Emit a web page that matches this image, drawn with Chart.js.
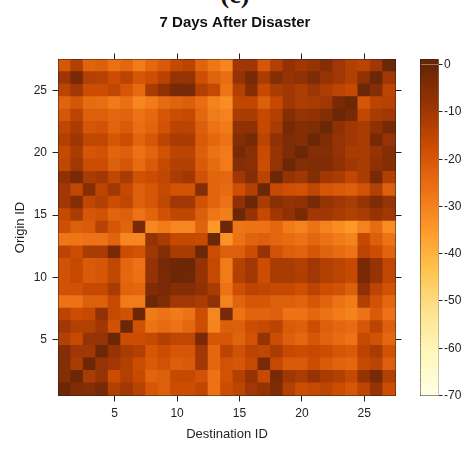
<!DOCTYPE html>
<html>
<head>
<meta charset="utf-8">
<script src="https://cdn.jsdelivr.net/npm/chart.js@4.4.1/dist/chart.umd.min.js"></script>
<style>
  html, body { margin: 0; padding: 0; background: #fff; }
  #wrap { position: relative; width: 470px; height: 450px; overflow: hidden; }
  #heat { position: absolute; left: 0; top: 0; }
  #bar { position: absolute; left: 400px; top: 0; }
  #panel {
    position: absolute; left: 0; top: -18px; width: 470px; text-align: center;
    font: bold 26px "Liberation Serif", "Times New Roman", serif; line-height: 26px; color: #111;
  }
</style>
</head>
<body>
<div id="wrap">
  <div id="panel">(c)</div>
  <canvas id="heat" width="470" height="450"></canvas>
  <canvas id="bar" width="70" height="450"></canvas>
</div>
<script>
const destinationIds = [1, 2, 3, 4, 5, 6, 7, 8, 9, 10, 11, 12, 13, 14, 15, 16, 17, 18, 19, 20, 21, 22, 23, 24, 25, 26, 27];
const originIds = [1, 2, 3, 4, 5, 6, 7, 8, 9, 10, 11, 12, 13, 14, 15, 16, 17, 18, 19, 20, 21, 22, 23, 24, 25, 26, 27];
const axisTicks = [5, 10, 15, 20, 25];
const legendTicks = [0, -10, -20, -30, -40, -50, -60, -70];

// one row per origin (1..27), one value per destination (1..27)
const cells = [
  [-1, -4.5, -5, -3, -13, -10, -14, -20, -22, -17.5, -17.5, -15.5, -26.5, -17.5, -15, -10, -8, -4, -13, -17.5, -16.5, -15, -17.5, -20, -15, -8, -17.5],
  [-5, -1, -11.5, -8, -17.5, -13, -16.5, -23, -22, -16.5, -16.5, -19, -26.5, -19, -13, -8, -16.5, -3, -10, -11.5, -8, -11.5, -13, -16.5, -8, -3, -13],
  [-5, -11.5, -1, -8, -10, -13, -17.5, -21, -19, -22, -21, -10, -24, -19, -20, -16.5, -3, -16.5, -21, -21, -17.5, -21, -23, -24, -16.5, -14.5, -22],
  [-5, -10, -10, -1, -8, -11.5, -13, -20, -17.5, -20, -20, -10, -24, -14.5, -19, -14.5, -15.5, -11.5, -16.5, -17.5, -16.5, -17.5, -20, -21, -14.5, -11.5, -19],
  [-13, -16.5, -8, -8, -1, -17.5, -17.5, -16.5, -13, -15.5, -15.5, -3, -20, -20, -23, -19, -8, -17.5, -22, -24, -20, -23, -25, -26.5, -16.5, -19, -24],
  [-10, -13, -13, -10, -19, -1, -19, -26.5, -25, -26.5, -24, -17.5, -30, -22, -22, -17.5, -16.5, -14.5, -21, -22, -17.5, -22, -24, -25, -20, -14.5, -22],
  [-14.5, -17.5, -16.5, -7, -16.5, -19, -1, -28.5, -26.5, -28.5, -26.5, -17.5, -31, -3, -26.5, -23, -23, -22, -26.5, -26.5, -24, -26.5, -28.5, -30, -26.5, -21, -26.5],
  [-26.5, -26.5, -22, -22, -16.5, -28.5, -28.5, -1, -4.5, -10, -10, -11.5, -7, -30, -23, -20, -20, -22, -22, -23, -20, -23, -26.5, -28.5, -13, -19, -24],
  [-19, -19, -16.5, -16.5, -11.5, -23, -24, -4.5, -3, -5, -5, -7, -11.5, -26.5, -18, -14.5, -15.5, -16.5, -16.5, -18, -14.5, -17.5, -19, -22, -7, -14.5, -19],
  [-19, -16.5, -21, -20, -15.5, -24, -26, -8, -3.5, -1, -1.5, -8, -16.5, -28.5, -13, -10, -17.5, -11.5, -11.5, -12.5, -10, -13, -14.5, -16.5, -3, -8, -15.5],
  [-19, -16.5, -21, -20, -15.5, -24, -26.5, -8, -3, -1.5, -1, -8, -16.5, -28.5, -13.5, -10, -17.5, -11.5, -11.5, -13, -10, -13, -14.5, -16.5, -3, -8, -15.5],
  [-14.5, -17.5, -11.5, -11.5, -3, -17.5, -19, -10, -5, -11.5, -11.5, -1, -17.5, -22, -22, -17.5, -8, -19, -22, -23, -20, -23, -25, -26.5, -14.5, -17.5, -23],
  [-27.5, -27.5, -26.5, -26.5, -23, -31, -31, -8, -11.5, -16.5, -16.5, -17, -1, -33.5, -26.5, -23, -22, -24, -25, -26.5, -24, -26.5, -28.5, -30, -16.5, -22, -26.5],
  [-18, -22, -21, -14, -20, -23, -3, -31, -28.5, -31, -31, -23, -35, -1, -27.5, -26.5, -26.5, -24, -28.5, -30, -26.5, -30, -32.5, -35, -30, -25, -32.5],
  [-16.5, -11.5, -20, -19, -23.5, -22, -26.5, -23.5, -19, -15.5, -15.5, -22, -27.5, -29.5, -1, -8, -16.5, -10, -7, -3, -10, -10, -11.5, -13, -11.5, -8, -10],
  [-10, -5, -15.5, -13, -17.5, -15.5, -22, -20, -15.5, -10, -10, -19, -23.5, -26.5, -7, -1, -11.5, -6, -8, -7, -3, -8, -10, -11.5, -8, -4, -8],
  [-10, -15.5, -5, -14.5, -10, -16.5, -22, -20, -16.5, -19, -19, -5, -23.5, -25, -18, -13, -1, -16.5, -18, -19, -15.5, -20, -21, -22, -19, -13, -22],
  [-7, -3, -11.5, -10, -15.5, -11.5, -19, -17.5, -15.5, -11.5, -10, -19, -23.5, -24, -10, -5, -14.5, -1, -8, -10, -5, -10, -11.5, -15.5, -11.5, -3, -13],
  [-15.5, -10, -17.5, -17.5, -22, -20, -25, -21, -16.5, -13, -13, -21, -25, -28.5, -5, -6, -17.5, -8, -1, -5, -4.5, -4.5, -7, -10, -11.5, -7, -5],
  [-16.5, -11.5, -20, -19, -23.5, -22, -26.5, -23.5, -19, -14.5, -14.5, -22, -26.5, -28.5, -3, -6, -17, -8.5, -4, -1, -5, -5, -8, -11.5, -11.5, -8, -5],
  [-13, -9.5, -15.5, -15.5, -20, -17.5, -23.5, -20, -14.5, -11.5, -11.5, -21, -24, -26.5, -5, -3, -14.5, -7, -4, -5, -1, -4.5, -8, -10, -11.5, -3, -8],
  [-15.5, -11.5, -20, -19, -23, -21, -25.5, -23.5, -19, -14.5, -14.5, -22, -26.5, -28.5, -7, -7, -16.5, -11.5, -3, -5, -4.5, -1, -7, -10, -11.5, -7, -3],
  [-20, -14.5, -22, -22, -24, -23, -26.5, -24.5, -20, -17.5, -16.5, -24, -28.5, -30, -11.5, -11.5, -16.5, -13, -5, -8, -7, -5, -1, -3, -15.5, -11.5, -10],
  [-23, -20, -25, -25.5, -28.5, -26, -31, -28.5, -25, -23, -22, -25.5, -30, -32.5, -15.5, -15.5, -22, -16.5, -10, -12, -11.5, -10, -3, -1, -20, -14.5, -13.5],
  [-14.5, -10, -17.5, -17.5, -15.5, -20, -24.5, -11.5, -7, -3, -3, -13, -16.5, -27, -13, -5, -16.5, -11.5, -10, -12, -9, -12, -14.5, -16.5, -1, -5, -14.5],
  [-9.5, -3, -13, -14, -17.5, -14.5, -20, -18, -14, -8, -8, -18, -23, -25.5, -8, -3, -11.5, -5, -8, -7, -4, -8, -10, -13, -7, -1, -10],
  [-20, -13, -23, -22, -26, -24, -28.5, -24, -21, -16.5, -14.5, -23, -27.5, -31, -10, -10, -20, -13, -7.5, -10, -8, -5, -10, -13, -14.5, -10, -1]
];

// YlOrBr ramp, -70 (pale) up to 0 (dark brown)
const ramp = ['#ffffe5', '#fff7bc', '#fee391', '#fec44f', '#fe9929', '#ec7014', '#cc4c02', '#993404', '#662506'];
const zMin = -70, zMax = 0;

function hexToRgb(h) {
  return [parseInt(h.slice(1, 3), 16), parseInt(h.slice(3, 5), 16), parseInt(h.slice(5, 7), 16)];
}

function colorFor(v) {
  let t = (v - zMin) / (zMax - zMin);
  t = Math.max(0, Math.min(1, t)) * (ramp.length - 1);
  const i = Math.min(Math.floor(t), ramp.length - 2);
  const f = t - i;
  const a = hexToRgb(ramp[i]), b = hexToRgb(ramp[i + 1]);
  const c = a.map((x, k) => Math.round(x + (b[k] - x) * f));
  return `rgb(${c[0]},${c[1]},${c[2]})`;
}

const font = { family: '"Liberation Sans", Arial, sans-serif', size: 12 };
const ink = '#222';
Chart.defaults.font.family = font.family;

const fixTicks = list => axis => { axis.ticks = list.map(v => ({ value: v })); };

const heatSets = originIds.map((o, i) => ({
  data: destinationIds.map(d => ({ x: d, y: [o - 0.5, o + 0.5] })),
  backgroundColor: cells[i].map(colorFor),
  borderWidth: 0,
  grouped: false,
  barPercentage: 1,
  categoryPercentage: 1,
  inflateAmount: 0.6,
  xAxisID: 'x',
  yAxisID: 'y'
}));

const frameGrid = { drawOnChartArea: false, offset: false, tickLength: 6, color: ink };

new Chart(document.getElementById('heat'), {
  type: 'bar',
  data: { datasets: heatSets },
  options: {
    responsive: false,
    animation: false,
    events: [],
    layout: { padding: 0 },
    plugins: {
      legend: { display: false },
      tooltip: { enabled: false },
      title: {
        display: true,
        text: '7 Days After Disaster',
        color: '#111',
        font: { family: font.family, size: 15, weight: 'bold', lineHeight: 1.2 },
        padding: { top: 14, bottom: 21.5 }
      }
    },
    scales: {
      x: {
        type: 'linear', position: 'bottom', min: 0.5, max: 27.5, offset: false,
        afterBuildTicks: fixTicks(axisTicks),
        afterFit: s => { s.height = 54.5; },
        grid: frameGrid,
        border: { color: ink },
        ticks: { padding: 4.5, color: ink, font: font },
        title: { display: true, text: 'Destination ID', color: ink, font: { family: font.family, size: 13 }, padding: { top: 0, bottom: 8.2 } }
      },
      xTop: {
        type: 'linear', position: 'top', min: 0.5, max: 27.5, offset: false,
        afterBuildTicks: fixTicks(axisTicks),
        afterFit: s => { s.height = 6; },
        grid: frameGrid,
        border: { color: ink },
        ticks: { display: false }
      },
      y: {
        type: 'linear', position: 'left', min: 0.5, max: 27.5,
        afterBuildTicks: fixTicks(axisTicks),
        afterFit: s => { s.width = 58.5; },
        grid: frameGrid,
        border: { color: ink },
        ticks: { padding: 5.5, color: ink, font: font },
        title: { display: true, text: 'Origin ID', color: ink, font: { family: font.family, size: 13 }, padding: { top: 12.2, bottom: 0 } }
      },
      yRight: {
        type: 'linear', position: 'right', min: 0.5, max: 27.5,
        afterBuildTicks: fixTicks(axisTicks),
        afterFit: s => { s.width = 74.5; },
        grid: frameGrid,
        border: { color: ink },
        ticks: { display: false }
      }
    }
  }
});

// colour key: thin slices stacked from -70 up to the top of the bar
const keyMax = 1.1;
const keySets = [];
for (let v = zMin; v < keyMax; v += 0.5) {
  keySets.push({
    data: [[v, v + 0.5]],
    backgroundColor: colorFor(v + 0.25),
    borderWidth: 0,
    grouped: false,
    barPercentage: 1,
    categoryPercentage: 1,
    inflateAmount: 0.4,
    xAxisID: 'x',
    yAxisID: 'y'
  });
}

const keyEdge = { drawOnChartArea: false, drawTicks: false, offset: false };

new Chart(document.getElementById('bar'), {
  type: 'bar',
  data: { labels: [''], datasets: keySets },
  options: {
    responsive: false,
    animation: false,
    events: [],
    layout: { padding: { top: 59.5, right: 0, bottom: 54.5, left: 20.5 } },
    plugins: { legend: { display: false }, tooltip: { enabled: false } },
    scales: {
      x: {
        type: 'category', position: 'bottom',
        afterFit: s => { s.height = 0; },
        grid: keyEdge,
        border: { color: ink },
        ticks: { display: false }
      },
      xTop: {
        type: 'category', position: 'top',
        afterFit: s => { s.height = 0; },
        grid: keyEdge,
        border: { color: ink },
        ticks: { display: false }
      },
      yLeft: {
        type: 'linear', position: 'left', min: zMin, max: keyMax,
        afterFit: s => { s.width = 0; },
        grid: keyEdge,
        border: { color: ink },
        ticks: { display: false }
      },
      y: {
        type: 'linear', position: 'right', min: zMin, max: keyMax,
        afterBuildTicks: fixTicks(legendTicks),
        afterFit: s => { s.width = 31.5; },
        grid: { drawOnChartArea: false, tickLength: 4, color: ink },
        border: { color: '#888' },
        ticks: { padding: 1.5, color: ink, font: font }
      }
    }
  }
});
</script>
</body>
</html>
